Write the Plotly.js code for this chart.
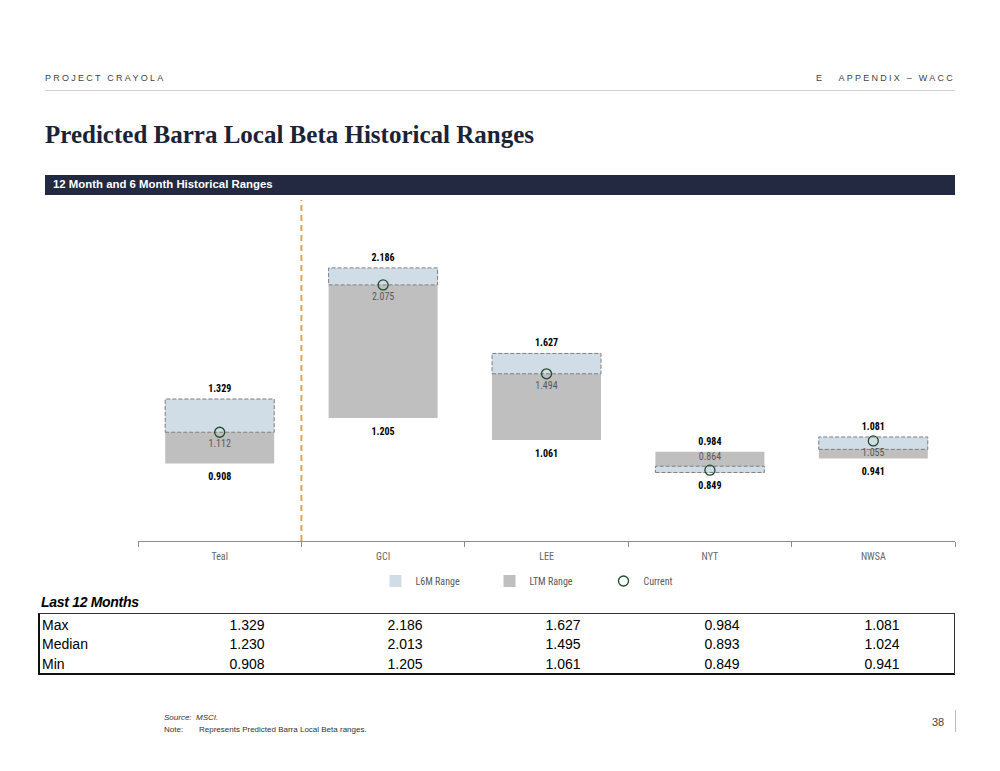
<!DOCTYPE html>
<html>
<head>
<meta charset="utf-8">
<script src="https://cdn.plot.ly/plotly-3.0.1.min.js"></script>
<style>
  html, body { margin:0; padding:0; background:#fff; }
  body { width:1000px; height:771px; position:relative; overflow:hidden; font-family:"Liberation Sans", Arial, sans-serif; }
  .abs { position:absolute; white-space:nowrap; }
  #hdrL { left:45px; top:73px; font-size:9px; letter-spacing:2.25px; color:#444; }
  #hdrR { right:45px; top:73px; font-size:9px; letter-spacing:2.25px; color:#444; }
  #hdrLine { left:45px; top:90px; width:910px; height:1px; background:#d0d0d0; }
  #title { left:45px; top:121px; font-family:"Liberation Serif", "Times New Roman", serif; font-weight:bold; font-size:25px; color:#1c2236; }
  #bar { left:45px; top:175px; width:910px; height:20px; background:#222940; }
  #barText { left:53px; top:178px; font-size:11.4px; font-weight:bold; color:#fff; }
  #chart { left:0; top:195px; width:1000px; height:420px; }
  #tblTitle { left:41px; top:594px; font-size:14px; font-weight:bold; font-style:italic; color:#000; letter-spacing:-0.3px; }
  #tbl { left:38px; top:613px; width:914px; height:59px; border:1px solid #333; border-left:2px solid #111; border-bottom:2px solid #111; }
  .cell { position:absolute; font-size:14px; color:#000; white-space:nowrap; }
  #src { left:164px; top:713px; font-size:8px; font-style:italic; color:#333; }
  #note { left:164px; top:725px; font-size:8px; color:#333; }
  #noteTxt { left:199px; top:725px; font-size:8px; color:#333; }
  #pg { left:932px; top:716px; font-size:11px; color:#444; }
  #pgLine { left:955px; top:710px; width:1px; height:22px; background:#bbb; }
</style>
</head>
<body>
<div class="abs" id="hdrL">PROJECT CRAYOLA</div>
<div class="abs" id="hdrR">E&nbsp;&nbsp;&nbsp;APPENDIX – WACC</div>
<div class="abs" id="hdrLine"></div>
<div class="abs" id="title">Predicted Barra Local Beta Historical Ranges</div>
<div class="abs" id="bar"></div>
<div class="abs" id="barText">12 Month and 6 Month Historical Ranges</div>
<div class="abs" id="chart"></div>
<div class="abs" id="tblTitle">Last 12 Months</div>
<div class="abs" id="tbl"></div>
<div class="abs" id="src">Source:&nbsp; MSCI.</div>
<div class="abs" id="note">Note:</div>
<div class="abs" id="noteTxt">Represents Predicted Barra Local Beta ranges.</div>
<div class="abs" id="pg">38</div>
<div class="abs" id="pgLine"></div>
<script>
// ---- data ----
const companies = ['Teal', 'GCI', 'LEE', 'NYT', 'NWSA'];
const ltmMax    = [1.329, 2.186, 1.627, 0.984, 1.081];
const ltmMedian = [1.230, 2.013, 1.495, 0.893, 1.024];
const ltmMin    = [0.908, 1.205, 1.061, 0.849, 0.941];
const l6mMax    = [1.329, 2.186, 1.627, 0.890, 1.081];
const l6mMin    = [1.112, 2.075, 1.494, 0.849, 1.000];
const current   = [1.112, 2.075, 1.494, 0.864, 1.055];
const currentLabelPos = ['bottom center', 'bottom center', 'bottom center', 'top center', 'bottom center'];
const tableRows = ['Max', 'Median', 'Min'];

// ---- chart ----
const xs = companies.map((c, i) => i);
const BW = 0.667;
const narrow = '"Liberation Sans Narrow", "Arial Narrow", "Roboto Condensed", "DejaVu Sans Condensed", sans-serif';

const boxX = [], boxY = [];
xs.forEach((x, i) => {
  boxX.push(x - BW/2, x + BW/2, x + BW/2, x - BW/2, x - BW/2, null);
  boxY.push(l6mMin[i], l6mMin[i], l6mMax[i], l6mMax[i], l6mMin[i], null);
});

const fmt = v => v.toFixed(3);

const traces = [
  {
    type: 'bar', name: 'LTM Range', legendrank: 2,
    x: xs, base: ltmMin, y: ltmMax.map((v, i) => v - ltmMin[i]),
    width: BW, marker: { color: '#bfbfbf', line: { width: 0 } },
    hoverinfo: 'skip'
  },
  {
    type: 'bar', name: 'L6M Range', legendrank: 1,
    x: xs, base: l6mMin, y: l6mMax.map((v, i) => v - l6mMin[i]),
    width: BW, marker: { color: '#d0dde7', line: { width: 0 } },
    hoverinfo: 'skip'
  },
  {
    type: 'scatter', mode: 'lines', showlegend: false,
    x: boxX, y: boxY,
    line: { color: '#7f7f7f', width: 1, dash: '4px,2px' },
    hoverinfo: 'skip', connectgaps: false
  },
  {
    type: 'scatter', mode: 'markers+text', name: 'Current', legendrank: 3,
    x: xs, y: current, text: current.map(fmt),
    textposition: currentLabelPos, textfont: { family: narrow, size: 10, color: '#595959' },
    marker: { symbol: 'circle-open', size: 10, color: '#1f4b2c', line: { width: 1.3, color: '#1f4b2c' } }
  },
  {
    type: 'scatter', mode: 'markers+text', showlegend: false, hoverinfo: 'skip',
    x: xs, y: ltmMax, text: ltmMax.map(v => '<b>' + fmt(v) + '</b>'),
    marker: { size: 6, opacity: 0 },
    textposition: 'top center', textfont: { family: narrow, size: 10, color: '#000' }
  },
  {
    type: 'scatter', mode: 'markers+text', showlegend: false, hoverinfo: 'skip',
    x: xs, y: ltmMin, text: ltmMin.map(v => '<b>' + fmt(v) + '</b>'),
    marker: { size: 13, opacity: 0 },
    textposition: 'bottom center', textfont: { family: narrow, size: 10, color: '#000' }
  }
];

const layout = {
  width: 1000, height: 420,
  margin: { l: 138, r: 45, t: 5, b: 74 },
  paper_bgcolor: '#fff', plot_bgcolor: '#fff',
  barmode: 'overlay',
  showlegend: true,
  legend: {
    orientation: 'h', x: 0.5, xanchor: 'center', y: -40 / 341, yanchor: 'middle',
    font: { family: narrow, size: 10, color: '#595959' },
    itemwidth: 30, entrywidth: 69, entrywidthmode: 'pixels', traceorder: 'normal'
  },
  xaxis: {
    range: [-0.5, 4.5], tickmode: 'array', tickvals: xs, ticktext: companies,
    ticks: '', showline: true, linecolor: '#8c8c8c', linewidth: 1,
    showgrid: false, zeroline: false, ticklabelstandoff: 6,
    tickfont: { family: narrow, size: 10, color: '#666' },
    minor: { tickmode: 'array', tickvals: [-0.5, 0.5, 1.5, 2.5, 3.5, 4.5], ticks: 'outside', ticklen: 5, tickcolor: '#8c8c8c', tickwidth: 1, showgrid: false },
    fixedrange: true
  },
  yaxis: { range: [0.401, 2.63], visible: false, showgrid: false, zeroline: false, fixedrange: true },
  shapes: [
    { type: 'line', xref: 'x', yref: 'paper', x0: 0.5, x1: 0.5, y0: 0, y1: 1,
      line: { color: '#d9a55c', width: 2, dash: '6px,4px' } }
  ]
};

Plotly.newPlot('chart', traces, layout, { displayModeBar: false, staticPlot: true });

// ---- table ----
const tbl = document.getElementById('tbl');
const colCenters = [247, 405, 563, 722, 882];
const rowData = [ltmMax, ltmMedian, ltmMin];
tableRows.forEach((r, ri) => {
  const top = 3 + ri * 19.3;
  const lab = document.createElement('div');
  lab.className = 'cell';
  lab.style.left = '2px'; lab.style.top = top + 'px';
  lab.textContent = r;
  tbl.appendChild(lab);
  rowData[ri].forEach((v, ci) => {
    const c = document.createElement('div');
    c.className = 'cell';
    c.style.left = (colCenters[ci] - 40 - 40) + 'px';
    c.style.width = '80px'; c.style.textAlign = 'center';
    c.style.top = top + 'px';
    c.textContent = fmt(v);
    tbl.appendChild(c);
  });
});
</script>
</body>
</html>
